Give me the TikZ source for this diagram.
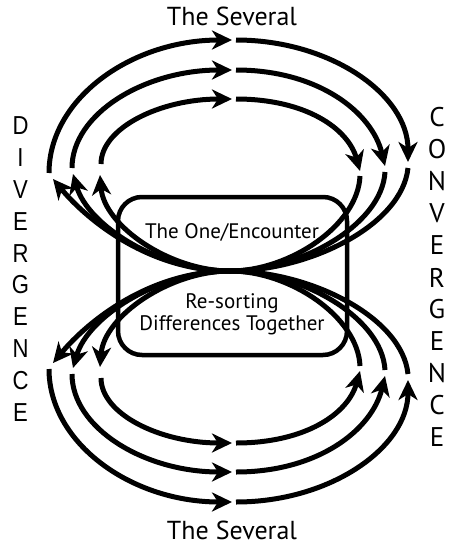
\documentclass[tikz,border=0pt]{standalone}
\usepackage{fontspec}
\setmainfont{PT Sans}
\newfontfamily\capsfont{Liberation Sans}
\usetikzlibrary{arrows.meta}

% one half of the figure: three loops leaving the hub and coming back to it
\newcommand\loopset{%
  % outer loop
  \draw[flow] (hub) .. controls (150,271) and (88,221) .. (53,179);
  \draw[flow] (49,173) .. controls (49,99) and (131,40) .. (232,40);
  \draw[flow] (236,40) .. controls (331,40) and (408,95) .. (408,162);
  \draw[plain] (408,168) .. controls (402,225) and (310,271) .. (hub);
  % middle loop
  \draw[flow] (hub) .. controls (160,271) and (88,226) .. (73,174);
  \draw[flow] (72,168) .. controls (72,114) and (144,70) .. (232,70);
  \draw[flow] (236,70) .. controls (318,70) and (372,112) .. (385,166);
  \draw[plain] (385,172) .. controls (382,225) and (300,271) .. (hub);
  % inner loop
  \draw[flow] (hub) .. controls (170,271) and (104,226) .. (100,175);
  \draw[flow] (101,164) .. controls (101,128) and (160,99) .. (232,99);
  \draw[flow] (236,99) .. controls (305,99) and (348,128) .. (360,171);
  \draw[plain] (360,176) .. controls (358,225) and (290,271) .. (hub);
}

\begin{document}
\begin{tikzpicture}[x=1pt,y=-1pt,
  plain/.style={line width=5pt},
  flow/.style={line width=5pt,-{Stealth[length=20pt,width=19pt,inset=6pt]}},
  boxtext/.style={font=\fontsize{21}{24}\selectfont,anchor=base},
  title/.style={font=\fontsize{26}{30}\selectfont,anchor=base},
  divletter/.style={font=\capsfont\fontsize{26}{30}\selectfont},
  conletter/.style={font=\fontsize{27}{30}\selectfont}]
\useasboundingbox (0,0) rectangle (450,546);

% central box
\node[draw,line width=4.5pt,rounded corners=24pt,minimum width=229pt,minimum height=158pt] (box) at (232.5,276) {};
\node[boxtext] (one) at (232,238) {The One/Encounter};
\node[boxtext] (resort) at (232,308) {Re-sorting};
\node[boxtext] (diff) at (232,330) {Differences Together};

\coordinate (hub) at (230,271);

% upper loops and their mirror image below
\loopset
\begin{scope}[shift={(0,271)},yscale=-1,shift={(0,-271)}]
  \loopset
\end{scope}

% labels
\node[title] (sevTop) at (232,25) {The Several};
\node[title] (sevBot) at (232,539) {The Several};

\foreach \l [count=\i] in {D,I,V,E,R,G,E,N,C,E}
  \node[divletter] (div\i) at (20.5,{126+31.8*(\i-1)}) {\scalebox{0.85}[1]{\l}};
\foreach \l [count=\i] in {C,O,N,V,E,R,G,E,N,C,E}
  \node[conletter] (con\i) at (437,{117.5+32*(\i-1)}) {\l};
\end{tikzpicture}
\end{document}
